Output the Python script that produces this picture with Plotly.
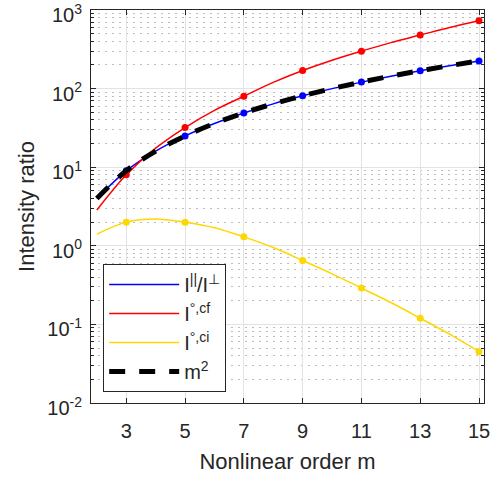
import plotly.graph_objects as go

m_vals = [2, 3, 4, 5, 6, 7, 8, 9, 10, 11, 12, 13, 14, 15]
ratio_par_perp = [4, 9, 16, 25, 36, 49, 64, 81, 100, 121, 144, 169, 196, 225]
ratio_cf = [2.85, 8, 17.5, 32, 53, 80, 120, 170, 230, 300, 385, 480, 600, 730]
ratio_ci = [1.41, 2.0, 2.2, 2.0, 1.7, 1.3, 0.95, 0.65, 0.44, 0.29, 0.19, 0.12, 0.075, 0.045]
m_squared = [4, 9, 16, 25, 36, 49, 64, 81, 100, 121, 144, 169, 196, 225]

x_ticks = [3, 5, 7, 9, 11, 13, 15]
y_ticks = [0.01, 0.1, 1, 10, 100, 1000]
y_ticktext = ["10<sup>-2</sup>", "10<sup>-1</sup>", "10<sup>0</sup>", "10<sup>1</sup>", "10<sup>2</sup>", "10<sup>3</sup>"]
y_minor = [k * 10 ** e for e in range(-2, 3) for k in range(2, 10)]

odd_idx = [i for i, m in enumerate(m_vals) if m % 2 == 1]
m_odd = [m_vals[i] for i in odd_idx]

BLUE = "#0000FF"
RED = "#FF0000"
YEL = "#FFD700"
FONT = "Liberation Sans, Arial"
TXT = "#262626"

fig = go.Figure()
fig.add_trace(go.Scatter(x=m_vals, y=ratio_par_perp, mode="lines", line=dict(color=BLUE, width=1.5, shape="spline"),
                         name="I<sup>||</sup>/I<sup>⊥</sup>", legendgroup="a"))
fig.add_trace(go.Scatter(x=m_vals, y=ratio_cf, mode="lines", line=dict(color=RED, width=1.5, shape="spline"),
                         name="I<sup>°,cf</sup>", legendgroup="b"))
fig.add_trace(go.Scatter(x=m_vals, y=ratio_ci, mode="lines", line=dict(color=YEL, width=1.5, shape="spline"),
                         name="I<sup>°,ci</sup>", legendgroup="c"))
fig.add_trace(go.Scatter(x=m_odd, y=[ratio_par_perp[i] for i in odd_idx], mode="markers",
                         marker=dict(color=BLUE, size=7), showlegend=False, legendgroup="a"))
fig.add_trace(go.Scatter(x=m_odd, y=[ratio_cf[i] for i in odd_idx], mode="markers",
                         marker=dict(color=RED, size=7), showlegend=False, legendgroup="b"))
fig.add_trace(go.Scatter(x=m_odd, y=[ratio_ci[i] for i in odd_idx], mode="markers",
                         marker=dict(color=YEL, size=7), showlegend=False, legendgroup="c"))
fig.add_trace(go.Scatter(x=m_vals, y=m_squared, mode="lines", line=dict(color="black", width=5, dash="16px,14px", shape="spline"),
                         name="m<sup>2</sup>", legendgroup="d"))

axis_common = dict(showline=True, linecolor=TXT, linewidth=1, mirror="ticks", ticks="inside",
                   tickcolor=TXT, ticklen=5, tickfont=dict(family=FONT, size=20, color=TXT),
                   zeroline=False, gridcolor="#E3E3E3", gridwidth=1, ticklabeloverflow="allow",
                   automargin=False)

fig.update_xaxes(range=[1.8, 15.17], tickvals=x_ticks, showgrid=True, ticklabelstandoff=10,
                 title=dict(text="Nonlinear order m", font=dict(family=FONT, size=22, color=TXT), standoff=12),
                 **axis_common)
fig.update_yaxes(type="log", range=[-2.0005, 3.0005], tickvals=y_ticks, ticktext=y_ticktext, showgrid=True,
                 ticklabelstandoff=4, ticklabelshift=5,
                 title=dict(text="Intensity ratio", font=dict(family=FONT, size=22, color=TXT), standoff=6),
                 minor=dict(tickmode="array", tickvals=y_minor, ticks="inside", ticklen=3, tickcolor=TXT,
                            showgrid=True, griddash="2px,5px", gridcolor="#BDBDBD", gridwidth=1),
                 **axis_common)

fig.update_layout(
    width=493, height=477,
    margin=dict(l=91, r=9, t=10, b=74, autoexpand=False),
    paper_bgcolor="white", plot_bgcolor="white",
    showlegend=True,
    legend=dict(x=0.031, y=0.028, xanchor="left", yanchor="bottom", bgcolor="white",
                bordercolor=TXT, borderwidth=1, itemwidth=70,
                font=dict(family=FONT, size=20, color=TXT),
                tracegroupgap=5, traceorder="normal"),
)

fig.write_html("out.html")
